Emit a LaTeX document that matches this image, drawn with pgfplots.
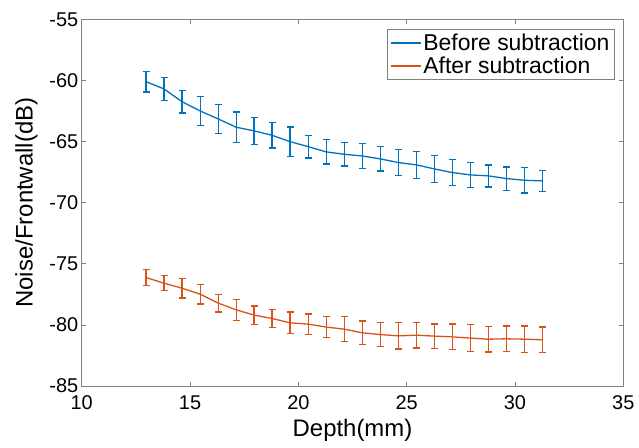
\documentclass[border=0pt]{standalone}
\usepackage{pgfplots}
\pgfplotsset{compat=1.18}
\usetikzlibrary{calc}
\usepackage{fontspec}
\setmainfont{Liberation Sans}
\definecolor{mblue}{rgb}{0,0.447,0.741}
\definecolor{morange}{rgb}{0.85,0.325,0.098}
\definecolor{axgray}{gray}{0.5}
\begin{document}
\begin{tikzpicture}
\begin{axis}[
  name=ax,
  scale only axis,
  width=541.6bp, height=366.7bp,
  xmin=10, xmax=35, ymin=-85, ymax=-55,
  xtick={10,15,...,35}, ytick={-85,-80,...,-55},
  tick align=inside,
  major tick length=4.5bp,
  axis line style={axgray, line width=0.6bp},
  every tick/.style={axgray, line width=0.6bp},
  /pgf/number format/assume math mode=true,
  ticklabel style={font=\fontsize{20}{24}\selectfont},
  xticklabel style={yshift=-6bp},
  label style={font=\fontsize{24}{28}\selectfont},
  xlabel style={yshift=-3bp},
  ylabel style={yshift=5bp},
  xlabel={Depth(mm)},
  ylabel={Noise/Frontwall(dB)},
  legend style={at={(0.983,0.973)}, anchor=north east, draw=axgray,
    font=\fontsize{23}{26}\selectfont, inner sep=2.5bp, row sep=1bp,
    legend cell align=left},
  legend image code/.code={\draw[#1] (0bp,0bp) -- (30bp,0bp);},
]
\addplot[color=mblue, line width=1.3bp, no marks,
  error bars/.cd, y dir=both, y explicit,
  error bar style={line width=1.3bp, mblue},
  error mark options={rotate=90, mark size=3.5bp, line width=1.3bp, mblue}]
table[x=x, y=y, y error=e] {
x y e
12.97 -60.10 0.85
13.80 -60.70 0.95
14.63 -61.74 0.93
15.47 -62.50 1.16
16.30 -63.15 1.20
17.13 -63.83 1.24
17.96 -64.13 1.10
18.79 -64.49 1.05
19.62 -65.01 1.19
20.46 -65.42 0.93
21.29 -65.85 1.00
22.12 -66.04 0.97
22.95 -66.18 1.00
23.78 -66.42 1.00
24.62 -66.72 1.04
25.45 -66.91 1.09
26.28 -67.24 1.12
27.11 -67.54 1.06
27.94 -67.73 1.02
28.77 -67.81 0.90
29.61 -68.03 0.95
30.44 -68.17 1.04
31.27 -68.22 0.85
};
\addlegendentry{Before subtraction}
\addplot[color=morange, line width=1.3bp, no marks,
  error bars/.cd, y dir=both, y explicit,
  error bar style={line width=1.3bp, morange},
  error mark options={rotate=90, mark size=3.5bp, line width=1.3bp, morange}]
table[x=x, y=y, y error=e] {
x y e
12.97 -76.13 0.67
13.80 -76.59 0.61
14.63 -77.00 0.80
15.47 -77.49 0.79
16.30 -78.22 0.72
17.13 -78.77 0.86
17.96 -79.20 0.75
18.79 -79.48 0.72
19.62 -79.83 0.89
20.46 -79.94 0.83
21.29 -80.18 0.84
22.12 -80.35 1.02
22.95 -80.65 0.97
23.78 -80.79 0.98
24.62 -80.90 1.08
25.45 -80.84 1.05
26.28 -80.92 1.00
27.11 -80.98 1.06
27.94 -81.08 1.09
28.77 -81.17 1.06
29.61 -81.14 1.06
30.44 -81.17 1.09
31.27 -81.22 1.05
};
\addlegendentry{After subtraction}
\end{axis}
\pgfresetboundingbox
\useasboundingbox ($(ax.south west)+(-81.7bp,-62bp)$) rectangle ($(ax.north east)+(15.7bp,19.3bp)$);
\end{tikzpicture}
\end{document}
